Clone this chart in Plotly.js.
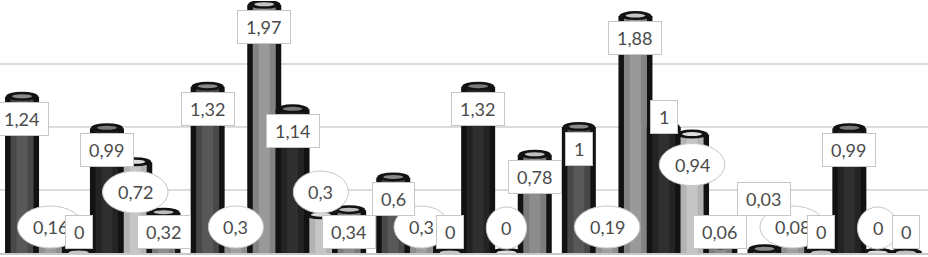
<!DOCTYPE html>
<html><head><meta charset="utf-8">
<script src="https://cdn.plot.ly/plotly-3.0.1.min.js"></script>
<style>html,body{margin:0;padding:0;background:#fff}#chart{width:928px;height:257px}</style>
</head><body><div id="chart"></div>
<script>
// ---- data ----
const categories = ['1', '2', '3', '4', '5'];
const seriesNames = ['Ряд 1', 'Ряд 2', 'Ряд 3', 'Ряд 4', 'Ряд 5', 'Ряд 6'];
const series1 = [1.24, 1.32, 0.6, 1, 0.03];
const series2 = [0.16, 0.3, 0.3, 0.19, 0.08];
const series3 = [0, 1.97, 0, 1.88, 0];
const series4 = [0.99, 1.14, 1.32, 1, 0.99];
const series5 = [0.72, 0.3, 0, 0.94, 0];
const series6 = [0.32, 0.34, 0.78, 0.06, 0];
const allSeries = [series1, series2, series3, series4, series5, series6];

// ---- layout / style ----
const W = 928, H = 257, M = {l: 0, r: 0, t: 1, b: 4};
const plotH = H - M.t - M.b;
const yMax = 2;
const pxPerUnit = plotH / yMax;
const catPx = W / categories.length;
const px2x = p => p / catPx;
const pitch = px2x(28.3);
const outerW = px2x(34), midW = px2x(23), stripeW = px2x(11);
const FONT = {family: 'Lato, "Open Sans", sans-serif', size: 18, color: '#4a4a4a'};

const styles = [
  {mid: '#484848', stripe: '#585858', cap: '#8a8a8a', label: 'box'},
  {mid: '#8f8f8f', stripe: '#a0a0a0', cap: '#bdbdbd', label: 'ellipse'},
  {mid: '#838383', stripe: '#999999', cap: '#c4c4c4', label: 'box'},
  {mid: '#232323', stripe: '#2f2f2f', cap: '#7a7a7a', label: 'box'},
  {mid: '#b3b3b3', stripe: '#c6c6c6', cap: '#dedede', label: 'ellipse'},
  {mid: '#7b7b7b', stripe: '#8d8d8d', cap: '#bdbdbd', label: 'box'}
];
// manual label placement (pixel centre from top) for a few callouts moved above their bars
const labelOverride = {'0-4': 199, '3-3': 117};

const catX = categories.map((c, i) => i);
const fmt = v => String(v).replace('.', ',');
const textW = s => { let w = 0; for (const ch of s) w += (ch === ',' ? 4.4 : 10.4); return w; };
const topPx = v => M.t + plotH - v * pxPerUnit;
const pxToY = p => (M.t + plotH - p) / pxPerUnit;

const traces = [];
const shapes = [];
const ellipses = [];
const annotations = [];

allSeries.forEach((vals, k) => {
  const st = styles[k];
  const center = (k - 2.5) * pitch;
  [[outerW, '#121212'], [midW, st.mid], [stripeW, st.stripe]].forEach(([w, col]) => {
    traces.push({
      type: 'bar', x: catX, y: vals, name: seriesNames[k], width: w, offset: center - w / 2,
      marker: {color: col, line: {width: 0}}, hoverinfo: 'skip', showlegend: false
    });
  });
  vals.forEach((v, i) => {
    const xpos = i + center;
    // cylinder top cap
    shapes.push({type: 'circle', xref: 'x', yref: 'y', xsizemode: 'pixel', ysizemode: 'pixel',
      xanchor: xpos, yanchor: v, x0: -16, x1: 16, y0: -4, y1: 5, fillcolor: '#121212', line: {width: 0}});
    shapes.push({type: 'circle', xref: 'x', yref: 'y', xsizemode: 'pixel', ysizemode: 'pixel',
      xanchor: xpos, yanchor: v, x0: -10, x1: 10, y0: -1.5, y1: 2.5, fillcolor: st.cap, line: {width: 0}});
    const txt = fmt(v);
    const tw = textW(txt);
    const key = k + '-' + i;
    let cy;
    if (labelOverride[key] !== undefined) cy = labelOverride[key];
    else if (st.label === 'box') cy = Math.min(topPx(v) + 22, 232);
    else if (k === 1) cy = 227;
    else cy = v === 0 ? 228 : Math.min(topPx(v) + 30, 192);
    const yv = pxToY(cy);
    if (st.label === 'box') {
      annotations.push({x: xpos, y: yv, xref: 'x', yref: 'y', text: txt, showarrow: false,
        bgcolor: '#ffffff', bordercolor: '#c6c6c6', borderwidth: 1, borderpad: 5,
        width: tw + 6, height: 22, font: FONT, xanchor: 'center', yanchor: 'middle'});
    } else {
      const ew = tw + 30, eh = 42;
      ellipses.push({type: 'circle', xref: 'x', yref: 'y', xsizemode: 'pixel', ysizemode: 'pixel',
        xanchor: xpos, yanchor: yv, x0: -ew / 2, x1: ew / 2, y0: -eh / 2, y1: eh / 2,
        fillcolor: '#ffffff', line: {color: '#c6c6c6', width: 1}});
      annotations.push({x: xpos, y: yv, xref: 'x', yref: 'y', text: txt, showarrow: false,
        font: FONT, xanchor: 'center', yanchor: 'middle'});
    }
  });
});

const layout = {
  width: W, height: H, margin: M,
  paper_bgcolor: '#ffffff', plot_bgcolor: '#ffffff',
  barmode: 'overlay', showlegend: false,
  xaxis: {type: 'linear', range: [-0.5, categories.length - 0.5], showgrid: false, zeroline: false,
    showticklabels: false, ticks: '', showline: true, linecolor: '#c8c8c8', linewidth: 2,
    tickvals: catX, ticktext: categories},
  yaxis: {range: [0, yMax], dtick: 0.5, showgrid: true, gridcolor: '#dcdcdc', gridwidth: 1.5,
    zeroline: false, showticklabels: false, ticks: ''},
  shapes: shapes.concat(ellipses),
  annotations: annotations
};
Plotly.newPlot('chart', traces, layout, {staticPlot: true, displayModeBar: false});
</script></body></html>
